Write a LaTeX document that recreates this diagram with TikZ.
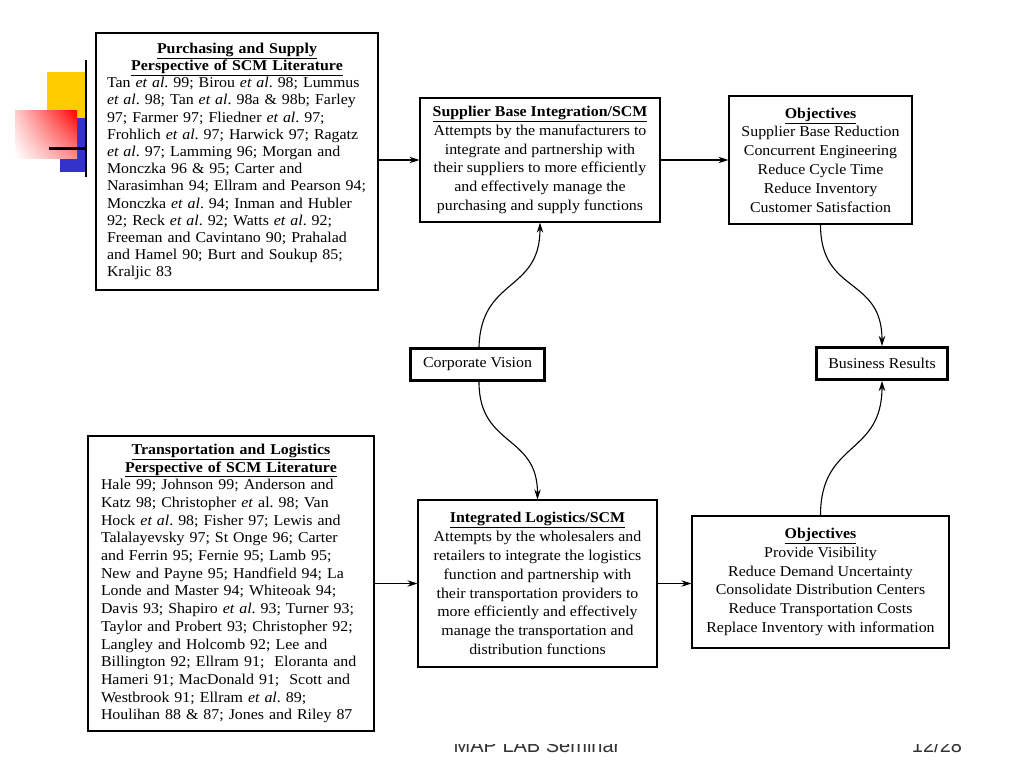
\documentclass[tikz,border=0pt]{standalone}
\usepackage{fontspec}
\setmainfont{Liberation Serif}[FakeStretch=1.06]
\newfontfamily\footfont{Liberation Sans}
\usetikzlibrary{arrows.meta,shadings}
\definecolor{logoyellow}{HTML}{FFCC00}
\definecolor{logoblue}{HTML}{3333CC}
\newcommand\ttl[1]{\underline{\textbf{#1}}}
\frenchspacing
\begin{document}
\begin{tikzpicture}[x=1pt,y=-1pt,
  litbox/.style={draw, line width=1.3pt, inner ysep=0pt},
  ctrbox/.style={draw, line width=1.3pt, inner sep=2pt, align=center,
    font=\fontsize{15}{18.8}\selectfont},
  thickbox/.style={draw, line width=3pt, inner sep=2pt, align=center,
    font=\fontsize{15}{18}\selectfont},
  link/.style={line width=1.1pt, -{Stealth[length=10pt,width=6.5pt]}},
  foot/.style={font=\footfont\fontsize{20}{24}\selectfont, text=black!80, anchor=base, inner sep=0pt}]
\useasboundingbox (0,0) rectangle (1024,768);
\fill[white] (0,0) rectangle (1024,768);

% logo decoration
\fill[logoyellow] (47,72) rectangle (85,120);
\fill[logoblue] (60,118) rectangle (85,172);
\shade[upper right=red, lower right=red!45!white, upper left=red!20!white, lower left=white]
  (15,110) rectangle (77,158);
\fill[black] (49,146.5) rectangle (85,150);
\draw[line width=1.2pt] (86,60) -- (86,177);

% literature boxes
\node[litbox, text width=260pt, inner xsep=11pt, minimum height=257pt,
  font=\fontsize{15}{17.2}\selectfont] (pur) at (237,161.5) {\raggedright
{\centering\ttl{Purchasing and Supply}\\\ttl{Perspective of SCM Literature}\par}
Tan \textit{et al}. 99; Birou \textit{et al}. 98; Lummus\\
\textit{et al}. 98; Tan \textit{et al}. 98a \& 98b; Farley\\
97; Farmer 97; Fliedner \textit{et al}. 97;\\
Frohlich \textit{et al}. 97; Harwick 97; Ragatz\\
\textit{et al}. 97; Lamming 96; Morgan and\\
Monczka 96 \& 95; Carter and\\
Narasimhan 94; Ellram and Pearson 94;\\
Monczka \textit{et al}. 94; Inman and Hubler\\
92; Reck \textit{et al}. 92; Watts \textit{et al}. 92;\\
Freeman and Cavintano 90; Prahalad\\
and Hamel 90; Burt and Soukup 85;\\
Kraljic 83\par};

\node[litbox, text width=260pt, inner xsep=13pt, minimum height=295pt,
  font=\fontsize{15}{17.7}\selectfont] (log) at (231,583.5) {\raggedright
{\centering\ttl{Transportation and Logistics}\\\ttl{Perspective of SCM Literature}\par}
Hale 99; Johnson 99; Anderson and\\
Katz 98; Christopher \textit{et} al. 98; Van\\
Hock \textit{et al}. 98; Fisher 97; Lewis and\\
Talalayevsky 97; St Onge 96; Carter\\
and Ferrin 95; Fernie 95; Lamb 95;\\
New and Payne 95; Handfield 94; La\\
Londe and Master 94; Whiteoak 94;\\
Davis 93; Shapiro \textit{et al}. 93; Turner 93;\\
Taylor and Probert 93; Christopher 92;\\
Langley and Holcomb 92; Lee and\\
Billington 92; Ellram 91;\ \ Eloranta and\\
Hameri 91; MacDonald 91;\ \ Scott and\\
Westbrook 91; Ellram \textit{et al}. 89;\\
Houlihan 88 \& 87; Jones and Riley 87\par};

% middle and right boxes
\node[ctrbox, minimum width=240pt, minimum height=124pt] (sup) at (540,160)
{\ttl{Supplier Base Integration/SCM}\\
Attempts by the manufacturers to\\
integrate and partnership with\\
their suppliers to more efficiently\\
and effectively manage the\\
purchasing and supply functions};

\node[ctrbox, minimum width=183pt, minimum height=128pt] (obja) at (820.5,160)
{\ttl{Objectives}\\
Supplier Base Reduction\\
Concurrent Engineering\\
Reduce Cycle Time\\
Reduce Inventory\\
Customer Satisfaction};

\node[ctrbox, minimum width=239pt, minimum height=167pt] (int) at (537.5,583.5)
{\ttl{Integrated Logistics/SCM}\\
Attempts by the wholesalers and\\
retailers to integrate the logistics\\
function and partnership with\\
their transportation providers to\\
more efficiently and effectively\\
manage the transportation and\\
distribution functions};

\node[ctrbox, minimum width=257pt, minimum height=132pt] (objb) at (820.5,582)
{\ttl{Objectives}\\
Provide Visibility\\
Reduce Demand Uncertainty\\
Consolidate Distribution Centers\\
Reduce Transportation Costs\\
Replace Inventory with information};

\node[thickbox, minimum width=134pt, minimum height=32pt] (cv) at (477.5,364.5) {Corporate Vision};
\node[thickbox, minimum width=131pt, minimum height=32pt] (br) at (882,363.5) {Business Results};

% connectors
\draw[link] (pur.east |- sup.west) -- (sup.west);
\draw[link] (sup.east) -- (obja.west);
\draw[link] (log.east |- int.west) -- (int.west);
\draw[link] (int.east) -- (int.east -| objb.west);

\draw[link] ([xshift=1.5pt]cv.north) .. controls +(2,-70) and +(0,70) .. (sup.south);
\draw[link] ([xshift=1.5pt]cv.south) .. controls +(0,65) and +(0,-65) .. (int.north);
\draw[link] (obja.south) .. controls +(0,70) and +(0,-70) .. (br.north);
\draw[link] (objb.north) .. controls +(0,-75) and +(0,75) .. (br.south);

% footer, partly hidden behind the figure
\begin{scope}
\clip (0,744.5) rectangle (1024,768);
\node[foot] (ft) at (537,752) {MAP LAB Seminar};
\node[foot] (pg) at (937,752) {12/28};
\end{scope}
\end{tikzpicture}
\end{document}
